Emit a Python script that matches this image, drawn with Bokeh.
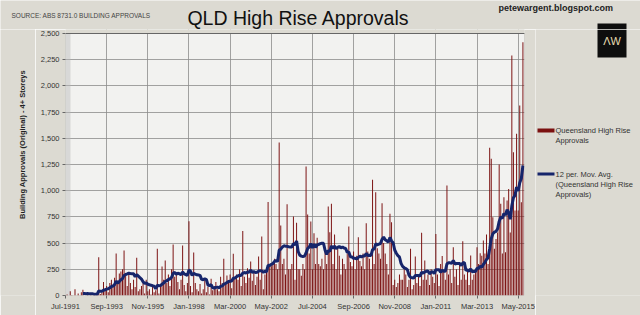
from math import pi
import pandas as pd
from bokeh.plotting import figure
from bokeh.layouts import column, row
from bokeh.models import (ColumnDataSource, Range1d, FixedTicker, NumeralTickFormatter,
                          BoxAnnotation, Span)
from bokeh.core.properties import value
from bokeh.embed import file_html
from bokeh.resources import INLINE

# Monthly Queensland high rise (4+ storeys) approvals, Jul-1991 .. Aug-2015
approvals = [
    0, 10, 0, 40, 5, 0, 60, 0, 20, 0, 30, 55,                # FY1992
    0, 0, 20, 0, 5, 0, 25, 0, 10, 366, 15, 30,               # FY1993
    130, 60, 90, 30, 120, 150, 80, 170, 400, 140, 210, 230,  # FY1994
    250, 430, 200, 90, 200, 120, 60, 150, 80, 360, 40, 60,   # FY1995
    90, 120, 20, 150, 40, 60, 10, 90, 30, 50, 445, 20,       # FY1996
    100, 277, 150, 334, 120, 200, 90, 250, 487, 180, 220, 130,  # FY1997
    60, 150, 477, 100, 40, 120, 709, 90, 30, 410, 120, 60,   # FY1998
    40, 110, 20, 60, 150, 30, 80, 10, 160, 50, 90, 130,      # FY1999
    60, 40, 180, 120, 350, 100, 190, 130, 200, 70, 398, 160,  # FY2000
    200, 150, 250, 90, 615, 180, 120, 260, 170, 325, 140, 230,  # FY2001
    100, 180, 373, 150, 564, 60, 200, 240, 892, 300, 280, 300,  # FY2002
    350, 300, 250, 1459, 669, 300, 350, 200, 870, 250, 250, 300,  # FY2003
    755, 150, 694, 250, 250, 189, 300, 250, 1232, 774, 400, 707,  # FY2004
    250, 595, 300, 550, 300, 280, 350, 250, 420, 300, 850, 604,  # FY2005
    875, 300, 583, 250, 446, 380, 200, 350, 300, 250, 400, 658,  # FY2006
    320, 280, 420, 250, 380, 557, 330, 280, 400, 250, 690, 420,  # FY2007
    350, 250, 1104, 300, 986, 450, 400, 350, 881, 500, 400, 300,  # FY2008
    200, 779, 700, 100, 150, 80, 120, 200, 150, 150, 250, 200,  # FY2009
    80, 150, 445, 60, 100, 372, 120, 200, 90, 598, 150, 334,  # FY2010
    150, 200, 100, 250, 180, 120, 588, 200, 90, 300, 378, 230,  # FY2011
    150, 1050, 200, 250, 120, 461, 180, 250, 100, 300, 150, 518,  # FY2012
    200, 150, 250, 100, 382, 150, 200, 250, 461, 300, 404, 380,  # FY2013
    525, 400, 582, 300, 1409, 1304, 747, 445, 540, 600, 1250, 875,  # FY2014
    400, 938, 413, 906, 1017, 600, 2290, 1368, 811, 1543, 811, 1813,  # FY2015
    890, 2417,                                                # Jul-15, Aug-15
]
month_labels = pd.date_range("1991-07-01", periods=len(approvals), freq="MS").strftime("%b-%Y").tolist()

tick_labels = ["Jul-1991", "Sep-1993", "Nov-1995", "Jan-1998", "Mar-2000", "May-2002",
               "Jul-2004", "Sep-2006", "Nov-2008", "Jan-2011", "Mar-2013", "May-2015"]
y_ticks = [0, 250, 500, 750, 1000, 1250, 1500, 1750, 2000, 2250, 2500]

title_text = "QLD High Rise Approvals"
source_text = "SOURCE: ABS 8731.0 BUILDING APPROVALS"
site_text = "petewargent.blogspot.com"
y_title = "Building Approvals (Original) - 4+ Storeys"
bar_name = ["Queensland High Rise", "Approvals"]
ma_name = ["12 per. Mov. Avg.", "(Queensland High Rise", "Approvals)"]

idx = list(range(len(approvals)))
ma = pd.Series(approvals, dtype=float).rolling(12).mean().tolist()
src = ColumnDataSource(dict(m=idx, v=approvals, ma=ma, month=month_labels))
tick_pos = [month_labels.index(t) for t in tick_labels]

FONT = "Liberation Sans"
BG = "#dcdad2"
PLOT_BG = "#f2f2f0"
BAR = "#7b1010"
LINE = "#16256b"
EDGE = "#666666"

HEAD_H = 29           # header strip height (page px)
ROW_H = 315 - HEAD_H  # height of the row below it


def blank(w, h, x0, x1, y_top, y_bottom):
    """Decoration canvas whose coordinates are page pixels (y grows downward)."""
    f = figure(width=w, height=h, output_backend="svg", toolbar_location=None, title=None,
               x_range=Range1d(x0, x1), y_range=Range1d(y_bottom, y_top),
               x_axis_type=None, y_axis_type=None,
               min_border=0, min_border_left=0, min_border_right=0,
               min_border_top=0, min_border_bottom=0)
    f.grid.visible = False
    f.outline_line_color = None
    f.background_fill_color = BG
    f.border_fill_color = BG
    return f


def txt(f, x, y, t, size, color="#333333", bold=False, align="left", angle=0.0):
    f.text(x=[x], y=[y], text=[t], text_font=value(FONT), text_font_size=value(size),
           text_color=color, text_font_style="bold" if bold else "normal",
           text_align=align, text_baseline="middle", angle=angle)


# ---- header strip (page y 0..29)
head = blank(640, HEAD_H, 0, 640, 0, HEAD_H)
txt(head, 11, 15.2, source_text, "6.5px", color="#444444")
txt(head, 298, 17.2, title_text, "19.5px", color="#111111", align="center")
txt(head, 498, 7.3, site_text, "9px", color="#222222", bold=True)
head.quad(left=[597], right=[626], top=[23], bottom=[HEAD_H], fill_color="#0e0e0e", line_color=None)

# ---- main chart (page x 35..535); frame spans page y 29..295, plot area 33..295
y_top = 2500 * (295 - HEAD_H) / (295 - 33)
p = figure(width=500, height=ROW_H, output_backend="svg", toolbar_location=None, title=None,
           x_range=Range1d(0, 290), y_range=Range1d(0, y_top),
           min_border_left=30, min_border_right=11, min_border_top=0, min_border_bottom=20)
p.background_fill_color = BG
p.border_fill_color = BG
p.outline_line_color = None

# plot area panel (0..290 x 0..2500) with outline, under the grid
p.add_layout(BoxAnnotation(left=0, right=290, bottom=0, top=2500, fill_color=PLOT_BG, fill_alpha=1,
                           line_color=EDGE, line_width=1, level="image"))
# soft shadow along the left edge of the plot area
p.add_layout(BoxAnnotation(left=0, right=5, left_units="screen", right_units="screen",
                           bottom=0, top=2500, fill_color="#b8b8b8", fill_alpha=0.45,
                           line_color=None, level="underlay"))

p.vbar(x="m", top="v", width=0.62, source=src, fill_color=BAR, line_color=None)
p.line(x="m", y="ma", source=src, line_color=LINE, line_width=3)

# hide grid stubs above the plot area, then redraw its top edge
p.add_layout(BoxAnnotation(bottom=2500, fill_color=BG, fill_alpha=1, line_color=None))
p.add_layout(Span(location=2500, dimension="width", line_color=EDGE, line_width=1))

p.xaxis.ticker = FixedTicker(ticks=tick_pos)
p.xaxis.major_label_overrides = {pos: lab for pos, lab in zip(tick_pos, tick_labels)}
p.xgrid.ticker = FixedTicker(ticks=tick_pos)
p.yaxis.ticker = FixedTicker(ticks=y_ticks)
p.ygrid.ticker = FixedTicker(ticks=y_ticks)
p.yaxis.formatter = NumeralTickFormatter(format="0,0")
for ax in (p.xaxis[0], p.yaxis[0]):
    ax.axis_line_color = None
    ax.major_tick_line_color = EDGE
    ax.major_tick_out = 3
    ax.major_tick_in = 0
    ax.minor_tick_line_color = None
    ax.major_label_text_font = FONT
    ax.major_label_text_font_size = "7.5px"
    ax.major_label_text_color = "#333333"
    ax.major_label_standoff = 3
p.grid.grid_line_color = "#8c8c8c"
p.grid.grid_line_alpha = 0.8

# ---- side strips share the main frame's vertical extent (page y 29..295)
left = blank(35, ROW_H, 0, 35, HEAD_H, 295)
txt(left, 22, 144, y_title, "7.5px", color="#222222", bold=True, align="center", angle=pi / 2)

side = blank(105, ROW_H, 535, 640, HEAD_H, 295)
side.quad(left=[597], right=[626], top=[HEAD_H], bottom=[57], fill_color="#0e0e0e", line_color=None)
txt(side, 611.5, 40.5, "\u039bW", "11px", color="#e6dcb0", align="center")
side.quad(left=[537], right=[554], top=[128], bottom=[132], fill_color=BAR, line_color=None)
for i, t in enumerate(bar_name):
    txt(side, 555, 130 + 10 * i, t, "7.5px")
side.quad(left=[537], right=[554], top=[172], bottom=[175], fill_color=LINE, line_color=None)
for i, t in enumerate(ma_name):
    txt(side, 555, 173.5 + 10 * i, t, "7.5px")

layout = column(head, row(left, p, side))
open("out.html", "w").write(file_html(layout, INLINE))
